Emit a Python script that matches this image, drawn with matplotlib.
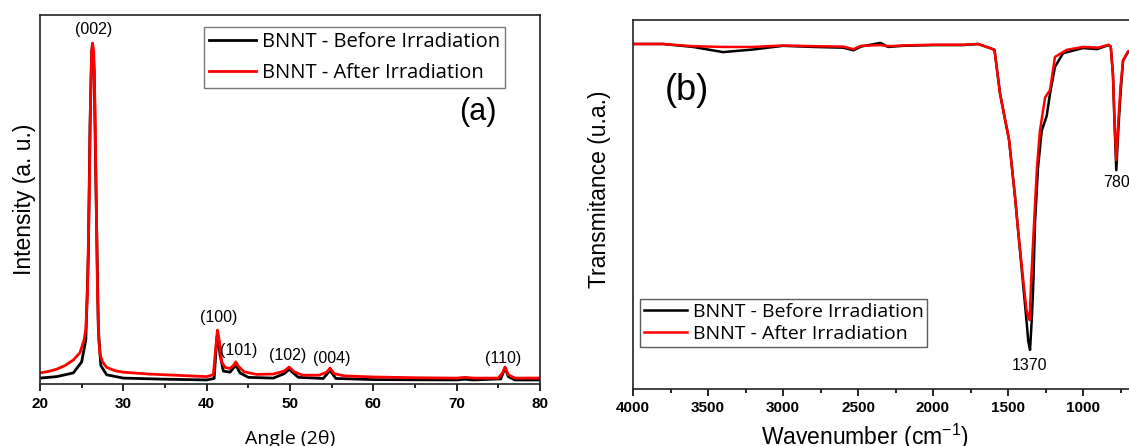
import matplotlib
matplotlib.use("Agg")
import matplotlib.pyplot as plt

# ---- (a) XRD ----
xrd_angle_before = [20.0, 22.0, 24.0, 25.0, 25.5, 25.8, 26.0, 26.2, 26.3, 26.5, 26.7, 27.0, 27.3, 28.0,
                    30.0, 35.0, 40.0, 40.9, 41.2, 41.3, 41.6, 42.0, 42.8, 43.5, 44.0, 45.0, 48.0, 49.3,
                    49.9, 51.0, 54.0, 54.8, 55.5, 60.0, 70.0, 71.0, 72.0, 75.3, 75.8, 76.2, 77.0, 80.0]
xrd_before = [0.016, 0.020, 0.030, 0.060, 0.120, 0.350, 0.700, 0.900, 0.920, 0.850, 0.550, 0.150, 0.050, 0.025,
              0.016, 0.013, 0.011, 0.015, 0.120, 0.138, 0.080, 0.035, 0.032, 0.051, 0.030, 0.018, 0.016, 0.028,
              0.040, 0.018, 0.015, 0.037, 0.015, 0.012, 0.011, 0.013, 0.011, 0.014, 0.044, 0.020, 0.011, 0.011]

xrd_angle_after = [20.0, 21.0, 22.0, 23.0, 24.0, 24.8, 25.3, 25.5, 25.7, 25.9, 26.05, 26.2, 26.3, 26.45,
                   26.6, 26.75, 26.9, 27.05, 27.2, 27.5, 28.0, 29.0, 30.0, 33.0, 36.0, 40.0, 40.8, 41.1,
                   41.3, 41.5, 41.8, 42.2, 42.8, 43.2, 43.5, 43.8, 44.5, 46.0, 48.0, 49.3, 49.9, 50.5,
                   51.5, 53.5, 54.4, 54.8, 55.3, 56.5, 60.0, 65.0, 70.0, 71.0, 72.0, 75.0, 75.5, 75.8,
                   76.2, 77.0, 80.0]
xrd_after = [0.030, 0.034, 0.040, 0.050, 0.065, 0.085, 0.120, 0.150, 0.250, 0.500, 0.750, 0.900, 0.924, 0.900,
             0.750, 0.500, 0.250, 0.120, 0.080, 0.060, 0.045, 0.036, 0.032, 0.027, 0.024, 0.020, 0.025, 0.100,
             0.146, 0.120, 0.060, 0.045, 0.042, 0.050, 0.060, 0.048, 0.033, 0.026, 0.027, 0.035, 0.046, 0.033,
             0.024, 0.024, 0.032, 0.043, 0.028, 0.022, 0.019, 0.017, 0.016, 0.018, 0.016, 0.016, 0.030, 0.046,
             0.025, 0.016, 0.016]

xrd_peak_labels = ["(002)", "(100)", "(101)", "(102)", "(004)", "(110)"]
xrd_peak_x = [26.4, 41.4, 43.9, 49.7, 55.0, 75.6]
xrd_peak_y = [0.96, 0.18, 0.092, 0.076, 0.07, 0.07]

# ---- (b) FTIR ----
ftir_wn_before = [4000, 3800, 3600, 3400, 3200, 3000, 2800, 2600, 2530, 2480, 2350, 2300, 2200, 2000,
                  1800, 1700, 1620, 1590, 1553, 1493, 1453, 1435, 1400, 1377, 1365, 1353, 1340, 1330,
                  1320, 1300, 1275, 1242, 1220, 1187, 1133, 1000, 907, 830, 815, 800, 790, 778, 765,
                  750, 733, 700, 650, 400]
ftir_before = [0.935, 0.935, 0.927, 0.913, 0.920, 0.930, 0.927, 0.925, 0.918, 0.928, 0.938, 0.927, 0.930, 0.932,
               0.932, 0.935, 0.924, 0.919, 0.800, 0.675, 0.520, 0.440, 0.287, 0.187, 0.130, 0.106, 0.200, 0.300,
               0.450, 0.600, 0.700, 0.740, 0.800, 0.873, 0.910, 0.924, 0.921, 0.932, 0.928, 0.850, 0.720, 0.593, 0.700,
               0.800, 0.890, 0.913, 0.925, 0.930]

ftir_wn_after = [4000, 3800, 3600, 3400, 3200, 3000, 2800, 2600, 2530, 2480, 2350, 2300, 2200, 2000,
                 1800, 1700, 1620, 1590, 1553, 1493, 1453, 1435, 1400, 1377, 1365, 1356, 1345, 1330,
                 1307, 1287, 1253, 1220, 1187, 1109, 1000, 900, 830, 815, 800, 790, 778, 765,
                 750, 733, 700, 650, 400]
ftir_after = [0.935, 0.935, 0.929, 0.927, 0.927, 0.931, 0.929, 0.928, 0.921, 0.930, 0.932, 0.929, 0.931, 0.933,
              0.933, 0.935, 0.924, 0.919, 0.800, 0.675, 0.520, 0.440, 0.300, 0.215, 0.195, 0.187, 0.300, 0.420,
              0.600, 0.700, 0.790, 0.810, 0.900, 0.919, 0.927, 0.925, 0.933, 0.928, 0.850, 0.730, 0.620, 0.720,
              0.820, 0.890, 0.915, 0.925, 0.930]

ftir_peak_labels = ["1370", "780"]
ftir_peak_x = [1355, 775]
ftir_peak_y = [0.065, 0.56]

fig = plt.figure(figsize=(11.29, 4.46), dpi=100)
ax1 = fig.add_axes([40 / 1129, 62 / 446, 500 / 1129, 369 / 446])
ax2 = fig.add_axes([633 / 1129, 57 / 446, 540 / 1129, 369 / 446])

sans = "Liberation Sans"
legfont = "Open Sans"

# (a)
ax1.plot(xrd_angle_before, xrd_before, color="black", lw=2.0, label="BNNT - Before Irradiation")
ax1.plot(xrd_angle_after, xrd_after, color="#ff0000", lw=2.0, label="BNNT - After Irradiation")
for lab, x, y in zip(xrd_peak_labels, xrd_peak_x, xrd_peak_y):
    ax1.text(x, y, lab, ha="center", va="center", fontsize=11.5, family=sans)
ax1.set_xlim(20, 80)
ax1.set_ylim(0, 1)
ax1.set_xticks([20, 30, 40, 50, 60, 70, 80])
ax1.set_xticks([25, 35, 45, 55, 65, 75], minor=True)
ax1.set_yticks([])
ax1.text(0.876, 0.737, "(a)", transform=ax1.transAxes, ha="center", va="center", fontsize=22, family=sans)
ax1.set_xlabel("Angle (2θ)", fontsize=14, family=legfont, labelpad=14)
ax1.set_ylabel("Intensity (a. u.)", fontsize=16.5, family=sans, labelpad=3)
leg1 = ax1.legend(loc="upper right", bbox_to_anchor=(0.93, 0.967), prop={"family": legfont, "size": 14.5},
                  frameon=True, fancybox=False, handlelength=2.3, borderpad=0.25, labelspacing=0.55,
                  handletextpad=0.3, borderaxespad=0)
leg1.get_frame().set_edgecolor("#555555")
leg1.get_frame().set_linewidth(1.0)

# (b)
ax2.plot(ftir_wn_before, ftir_before, color="black", lw=1.8, label="BNNT - Before Irradiation")
ax2.plot(ftir_wn_after, ftir_after, color="#ff0000", lw=1.8, label="BNNT - After Irradiation")
for lab, x, y in zip(ftir_peak_labels, ftir_peak_x, ftir_peak_y):
    ax2.text(x, y, lab, ha="center", va="center", fontsize=11.5, family=sans)
ax2.set_xlim(4000, 400)
ax2.set_ylim(0, 1)
ax2.set_xticks([4000, 3500, 3000, 2500, 2000, 1500, 1000, 500])
ax2.set_xticks([3750, 3250, 2750, 2250, 1750, 1250, 750], minor=True)
ax2.set_yticks([])
ax2.text(0.1, 0.81, "(b)", transform=ax2.transAxes, ha="center", va="center", fontsize=26, family=sans)
ax2.set_xlabel("Wavenumber (cm$^{\\mathregular{-1}}$)", fontsize=16.5, family=sans)
ax2.xaxis.set_label_coords(0.43, -0.09)
ax2.set_ylabel("Transmitance (u.a.)", fontsize=16.5, family=sans)
ax2.yaxis.set_label_coords(-0.04, 0.54)
leg2 = ax2.legend(loc="lower left", bbox_to_anchor=(0.013, 0.114), prop={"family": legfont, "size": 14},
                  frameon=True, fancybox=False, handlelength=2.2, borderpad=0.2, labelspacing=0.2,
                  handletextpad=0.3, borderaxespad=0)
leg2.get_frame().set_edgecolor("#333333")
leg2.get_frame().set_linewidth(1.0)

for ax in (ax1, ax2):
    for sp in ax.spines.values():
        sp.set_linewidth(1.2)
        sp.set_color("#222222")
    ax.tick_params(axis="x", which="major", direction="out", length=5, width=1.2, pad=4)
    ax.tick_params(axis="x", which="minor", direction="out", length=3, width=1.2)
    for t in ax.get_xticklabels():
        t.set_fontweight("bold")
        t.set_fontfamily(sans)
        t.set_fontsize(11)

fig.savefig("out.png", dpi=100)
